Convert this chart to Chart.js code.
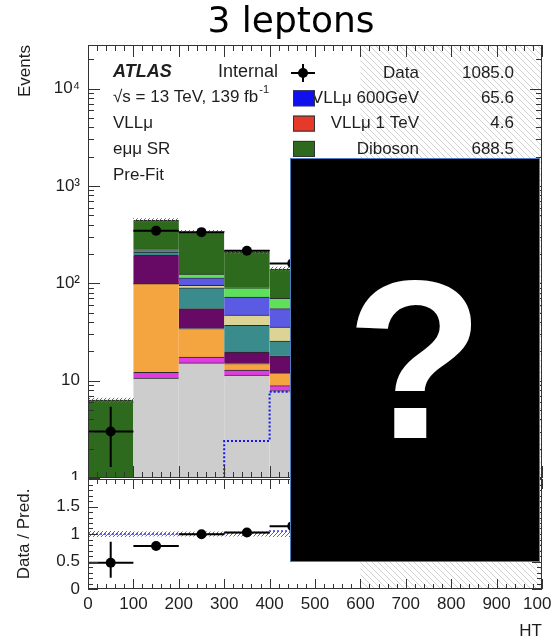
<!DOCTYPE html>
<html>
<head>
<meta charset="utf-8">
<script src="https://cdn.jsdelivr.net/npm/chart.js@4.4.1/dist/chart.umd.min.js"></script>
<style>
  html, body { margin: 0; padding: 0; background: #fff; }
  #wrap { position: relative; width: 552px; height: 644px; overflow: hidden; background: #fff; }
  #top { position: absolute; left: 0; top: 0; }
  #bottom { position: absolute; left: 0; top: 478px; }
  #cover { position: absolute; left: 290px; top: 158px; width: 248px; height: 402px;
    background: #000; border: 1px solid #4f7fbf; color: #fff;
    display: flex; align-items: center; justify-content: center;
    font: bold 226px "Liberation Sans", Arial, sans-serif; }
</style>
</head>
<body>
<div id="wrap">
  <canvas id="top" width="600" height="480"></canvas>
  <canvas id="bottom" width="600" height="166"></canvas>
  <div id="cover">?</div>
</div>
<script>
// HT bins (GeV). Bins from 500 up sit under the black box in the reference.
var binEdges = [0, 100, 200, 300, 400, 500, 600, 700, 800, 900, 1000];

// stacked prediction, bottom to top, events per bin
var bkgGrey    = [0,   10.6, 15.2, 11.4, 7.9, null, null, null, null, null];
var bkgMagenta = [0,   1.6,  2.3,  1.4,  1.0, null, null, null, null, null];
var bkgOrange  = [0,   86.8, 16.8, 2.2,  3.1, null, null, null, null, null];
var bkgPurple  = [0,   95,   20.7, 4.7,  6,   null, null, null, null, null];
var bkgTeal    = [0,   15,   35,   17.3, 7.5, null, null, null, null, null];
var bkgTan     = [0,   2,    5,    10,   10,  null, null, null, null, null];
var bkgBlue    = [0,   6,    19,   25,   19.5, null, null, null, null, null];
var bkgLime    = [0,   7,    10,   18,   15,  null, null, null, null, null];
var diboson    = [6.3, 220,  212,  120,  70,  null, null, null, null, null];
var bkgRelUnc  = [0.05, 0.04, 0.04, 0.04, 0.05, null, null, null, null, null];

var dataCounts  = [3,   347,  335,  216,  160, null, null, null, null, null];
var dataErrDown = [1.7, 18.1, 17.8, 14.2, 12.2, null, null, null, null, null];
var dataErrUp   = [2.4, 19.1, 18.8, 15.2, 13.2, null, null, null, null, null];

var vll600  = [0, 0, 0, 2.4, 7.7, null, null, null, null, null];
var vll1TeV = [0, 0, 0, 0.1, 0.2, null, null, null, null, null];

var blindFrom = 600;

var legendLabels = ['Data', 'VLLμ 600GeV', 'VLLμ 1 TeV', 'Diboson'];
var legendYields = ['1085.0', '65.6', '4.6', '688.5'];

var yMin = 1, yMax = 28000;

var FONT = '"Liberation Sans", Arial, Helvetica, sans-serif';
var INK = '#1e1e1e';

var centers = [];
for (var i = 0; i < binEdges.length - 1; i++) centers.push((binEdges[i] + binEdges[i + 1]) / 2);

function hatch(color, dir, gap) {
  var c = document.createElement('canvas');
  c.width = gap; c.height = gap;
  var g = c.getContext('2d');
  g.strokeStyle = color; g.lineWidth = 1;
  g.beginPath();
  if (dir > 0) {
    g.moveTo(-1, gap + 1); g.lineTo(gap + 1, -1);
    g.moveTo(-1, 1); g.lineTo(1, -1);
    g.moveTo(gap - 1, gap + 1); g.lineTo(gap + 1, gap - 1);
  } else {
    g.moveTo(-1, -1); g.lineTo(gap + 1, gap + 1);
    g.moveTo(gap - 1, -1); g.lineTo(gap + 1, 1);
    g.moveTo(-1, gap - 1); g.lineTo(1, gap + 1);
  }
  g.stroke();
  return g.createPattern(c, 'repeat');
}
var blindHatch = hatch('#d2d2d2', -1, 6);
var uncHatch = hatch('#5a5ad8', 1, 4);

// ---- build the stack
var components = [
  { label: 'grey',    values: bkgGrey,    color: '#cdcdcd' },
  { label: 'magenta', values: bkgMagenta, color: '#e03ce0' },
  { label: 'orange',  values: bkgOrange,  color: '#f5a540' },
  { label: 'purple',  values: bkgPurple,  color: '#660a66' },
  { label: 'teal',    values: bkgTeal,    color: '#3a8c8c' },
  { label: 'tan',     values: bkgTan,     color: '#dcd394' },
  { label: 'blue',    values: bkgBlue,    color: '#5a5ae2' },
  { label: 'lime',    values: bkgLime,    color: '#5ee05a' },
  { label: 'Diboson', values: diboson,    color: '#2d6a1d' }
];
var total = centers.map(function () { return 0; });
var topSets = [];
components.forEach(function (c, k) {
  var pts = [];
  c.values.forEach(function (v, i) {
    if (v === null || v === 0) return;
    var lo = total[i];
    total[i] += v;
    // a log axis cannot start a bar at zero, so begin it below the visible range
    pts.push({ x: centers[i], y: [lo > 0 ? lo : yMin / 10, total[i]] });
  });
  topSets.push({
    type: 'bar', label: c.label, data: pts,
    backgroundColor: c.color, borderColor: '#2a2a2a',
    borderWidth: { top: 1, left: 0, right: 0, bottom: 0 }, borderSkipped: false,
    order: 20
  });
});

function known(i) { return dataCounts[i] !== null; }

var bandTop = [], bandRatio = [];
centers.forEach(function (c, i) {
  if (bkgRelUnc[i] === null) return;
  bandTop.push({ x: c, y: [total[i] * (1 - bkgRelUnc[i]), total[i] * (1 + bkgRelUnc[i])] });
  bandRatio.push({ x: c, y: [1 - bkgRelUnc[i], 1 + bkgRelUnc[i]] });
});

function steps(values, floor) {
  var pts = [], last = -1;
  values.forEach(function (v, i) {
    if (v === null) return;
    pts.push({ x: binEdges[i], y: Math.max(v, floor) });
    last = i;
  });
  if (last >= 0) pts.push({ x: binEdges[last + 1], y: Math.max(values[last], floor) });
  return pts;
}

function errorBars(vals, lo, hi) {
  var pts = [];
  centers.forEach(function (c, i) {
    if (vals[i] === null) return;
    pts.push({ x: binEdges[i], y: vals[i] }, { x: binEdges[i + 1], y: vals[i] }, { x: binEdges[i + 1], y: null });
    pts.push({ x: c, y: vals[i] - lo[i] }, { x: c, y: vals[i] + hi[i] }, { x: c, y: null });
  });
  return pts;
}
function markers(vals) {
  var pts = [];
  centers.forEach(function (c, i) { if (vals[i] !== null) pts.push({ x: c, y: vals[i] }); });
  return pts;
}

topSets.push({ type: 'bar', label: 'unc', data: bandTop, backgroundColor: uncHatch, borderWidth: 0, order: 15 });
topSets.push({ type: 'line', label: 'VLLμ 1 TeV', data: steps(vll1TeV, yMin), stepped: true,
  borderColor: '#e02a20', borderWidth: 2, borderDash: [6, 3], pointRadius: 0, fill: false, order: 12 });
topSets.push({ type: 'line', label: 'VLLμ 600GeV', data: steps(vll600, yMin), stepped: true,
  borderColor: '#1414ee', borderWidth: 2, borderDash: [2, 2], pointRadius: 0, fill: false, order: 11 });
topSets.push({ type: 'line', label: 'err', data: errorBars(dataCounts, dataErrDown, dataErrUp), spanGaps: false,
  borderColor: '#000', borderWidth: 2, pointRadius: 0, fill: false, order: 2 });
topSets.push({ type: 'line', label: 'Data', data: markers(dataCounts), showLine: false,
  pointRadius: 5, pointBackgroundColor: '#000', pointBorderWidth: 0, order: 1 });

// ratio panel
var ratio = [], ratioLo = [], ratioHi = [], sigRatio = [];
centers.forEach(function (c, i) {
  ratio.push(known(i) ? dataCounts[i] / total[i] : null);
  ratioLo.push(known(i) ? dataErrDown[i] / total[i] : null);
  ratioHi.push(known(i) ? dataErrUp[i] / total[i] : null);
  sigRatio.push(vll600[i] === null ? null : (total[i] + vll600[i]) / total[i]);
});

var botSets = [
  { type: 'bar', label: 'unc', data: bandRatio, backgroundColor: uncHatch, borderWidth: 0, order: 15 },
  { type: 'line', label: 'sig', data: steps(sigRatio, 0), stepped: true,
    borderColor: '#3c3cee', borderWidth: 1.5, borderDash: [2, 2], pointRadius: 0, fill: false, order: 11 },
  { type: 'line', label: 'err', data: errorBars(ratio, ratioLo, ratioHi), spanGaps: false,
    borderColor: '#000', borderWidth: 2, pointRadius: 0, fill: false, order: 2 },
  { type: 'line', label: 'Data', data: markers(ratio), showLine: false,
    pointRadius: 5, pointBackgroundColor: '#000', pointBorderWidth: 0, order: 1 }
];

// ---- plugins
function blindPlugin() {
  return {
    id: 'blind',
    beforeDatasetsDraw: function (chart) {
      var a = chart.chartArea, x0 = chart.scales.x.getPixelForValue(blindFrom);
      var ctx = chart.ctx;
      ctx.save();
      ctx.fillStyle = blindHatch;
      ctx.fillRect(x0, a.top, a.right - x0, a.bottom - a.top);
      ctx.restore();
    }
  };
}

function framePlugin(cfg) {
  return {
    id: 'frame',
    afterDatasetsDraw: function (chart) {
      var ctx = chart.ctx, a = chart.chartArea, xs = chart.scales.x, ys = chart.scales.y;
      ctx.save();
      ctx.strokeStyle = '#333';
      ctx.lineWidth = 1;
      ctx.beginPath();
      for (var v = xs.min; v <= xs.max + 1e-6; v += cfg.xMinor) {
        var px = Math.round(xs.getPixelForValue(v)) + 0.5;
        var major = Math.abs(v / cfg.xMajor - Math.round(v / cfg.xMajor)) < 1e-6;
        var len = major ? cfg.xMajorLen : cfg.xMinorLen;
        ctx.moveTo(px, a.bottom); ctx.lineTo(px, a.bottom - len);
        ctx.moveTo(px, a.top); ctx.lineTo(px, a.top + len);
      }
      cfg.yTicks(ys).forEach(function (t) {
        var py = Math.round(ys.getPixelForValue(t.v)) + 0.5;
        var len = t.major ? cfg.yMajorLen : cfg.yMinorLen;
        ctx.moveTo(a.left, py); ctx.lineTo(a.left + len, py);
        ctx.moveTo(a.right, py); ctx.lineTo(a.right - len, py);
      });
      ctx.stroke();
      ctx.strokeRect(a.left + 0.5, a.top + 0.5, a.right - a.left - 1, a.bottom - a.top - 1);
      ctx.restore();
    }
  };
}

function logTicks(ys) {
  var out = [];
  for (var d = 0; d <= 5; d++) {
    for (var k = 1; k <= 9; k++) {
      var v = k * Math.pow(10, d);
      if (v >= ys.min && v <= ys.max) out.push({ v: v, major: k === 1 });
    }
  }
  return out;
}
function ratioTicks(ys) {
  var out = [];
  for (var n = 0; n <= 20; n++) out.push({ v: n / 10, major: n % 5 === 0 });
  return out;
}

// keep the plot frame where it is: no extra room for overhanging tick labels
function fixedWidth(s) { s.width = 88; s.paddingTop = 0; s.paddingBottom = 0; }
function fixedHeight(s) { s.height = 55; s.paddingLeft = 0; s.paddingRight = 0; }

var textPlugin = {
  id: 'texts',
  afterDraw: function (chart) {
    var ctx = chart.ctx;
    ctx.save();
    ctx.fillStyle = '#000';
    ctx.textBaseline = 'alphabetic';
    ctx.textAlign = 'center';
    ctx.font = '36px "DejaVu Sans", sans-serif';
    ctx.fillText('3 leptons', 291, 32);

    ctx.fillStyle = INK;
    ctx.textAlign = 'left';
    ctx.textBaseline = 'middle';
    ctx.font = 'italic bold 18px ' + FONT;
    ctx.fillText('ATLAS', 113, 72);
    ctx.font = '18px ' + FONT;
    ctx.fillText('Internal', 218, 72);
    ctx.font = '17px ' + FONT;
    var s = '√s = 13 TeV, 139 fb';
    ctx.fillText(s, 113, 97);
    var w = ctx.measureText(s).width;
    ctx.font = '11px ' + FONT;
    ctx.fillText('-1', 113 + w + 1, 90);
    ctx.font = '17px ' + FONT;
    ctx.fillText('VLLμ', 113, 123);
    ctx.fillText('eμμ SR', 113, 149);
    ctx.fillText('Pre-Fit', 113, 175);

    // legend
    var colors = [null, '#1010ee', '#e63a28', '#2d6a1d'];
    legendLabels.forEach(function (lab, r) {
      var y = 73 + r * 25.3;
      ctx.fillStyle = INK;
      ctx.textAlign = 'right';
      ctx.font = '17px ' + FONT;
      ctx.fillText(lab, 419, y);
      ctx.fillText(legendYields[r], 514, y);
      if (r === 0) {
        ctx.strokeStyle = '#000';
        ctx.lineWidth = 2;
        ctx.beginPath();
        ctx.moveTo(291, y); ctx.lineTo(315, y);
        ctx.moveTo(303, y - 9); ctx.lineTo(303, y + 9);
        ctx.stroke();
        ctx.fillStyle = '#000';
        ctx.beginPath(); ctx.arc(303, y, 5, 0, Math.PI * 2); ctx.fill();
      } else {
        ctx.fillStyle = colors[r];
        ctx.fillRect(293, y - 8, 22, 16);
        ctx.strokeStyle = '#333';
        ctx.lineWidth = 1;
        ctx.strokeRect(293.5, y - 7.5, 21, 15);
      }
    });
    ctx.restore();
  }
};

var tickFont = { family: FONT, size: 17 };

new Chart(document.getElementById('top'), {
  type: 'bar',
  data: { datasets: topSets },
  options: {
    responsive: false,
    animation: false,
    events: [],
    layout: { autoPadding: false, padding: { left: 0, right: 58, top: 45, bottom: 2 } },
    datasets: { bar: { grouped: false, barPercentage: 1, categoryPercentage: 1 } },
    plugins: { legend: { display: false }, tooltip: { enabled: false }, title: { display: false } },
    scales: {
      x: { type: 'linear', min: binEdges[0], max: binEdges[binEdges.length - 1], offset: false, display: false },
      y: {
        type: 'logarithmic', min: yMin, max: yMax,
        afterFit: fixedWidth,
        grid: { display: false, drawTicks: false },
        border: { display: false },
        ticks: {
          autoSkip: false, padding: 8, color: INK, font: tickFont,
          callback: function (v) {
            var n = Math.log10(v);
            if (Math.abs(n - Math.round(n)) > 1e-9) return '';
            return ['1', '10', '10²', '10³', '10⁴', '10⁵'][Math.round(n)];
          }
        },
        title: { display: true, text: 'Events', align: 'end', color: INK, font: { family: FONT, size: 17 }, padding: { top: 15, bottom: 0 } }
      }
    }
  },
  plugins: [blindPlugin(), framePlugin({ xMinor: 20, xMajor: 100, xMajorLen: 12, xMinorLen: 6, yMajorLen: 12, yMinorLen: 6, yTicks: logTicks }), textPlugin]
});

new Chart(document.getElementById('bottom'), {
  type: 'bar',
  data: { datasets: botSets },
  options: {
    responsive: false,
    animation: false,
    events: [],
    layout: { autoPadding: false, padding: { left: 0, right: 58, top: 1, bottom: 0 } },
    datasets: { bar: { grouped: false, barPercentage: 1, categoryPercentage: 1 } },
    plugins: { legend: { display: false }, tooltip: { enabled: false } },
    scales: {
      x: {
        type: 'linear', min: binEdges[0], max: binEdges[binEdges.length - 1], offset: false,
        afterFit: fixedHeight,
        grid: { display: false, drawTicks: false },
        border: { display: false },
        ticks: { stepSize: 100, autoSkip: false, maxRotation: 0, padding: 5, color: INK, font: tickFont,
          callback: function (v) { return String(v); } },
        title: { display: true, text: 'HT', align: 'end', color: INK, font: { family: FONT, size: 17 }, padding: { top: 0, bottom: 2 } }
      },
      y: {
        type: 'linear', min: 0, max: 2,
        afterFit: fixedWidth,
        grid: { display: false, drawTicks: false },
        border: { display: false },
        ticks: {
          stepSize: 0.5, autoSkip: false, padding: 8, color: INK, font: tickFont,
          callback: function (v) { return v >= 2 ? '' : String(v); }
        },
        title: { display: true, text: 'Data / Pred.', align: 'center', color: INK, font: { family: FONT, size: 17 }, padding: { top: 14, bottom: 0 } }
      }
    }
  },
  plugins: [blindPlugin(), framePlugin({ xMinor: 20, xMajor: 100, xMajorLen: 10, xMinorLen: 5, yMajorLen: 10, yMinorLen: 5, yTicks: ratioTicks })]
});
</script>
</body>
</html>
